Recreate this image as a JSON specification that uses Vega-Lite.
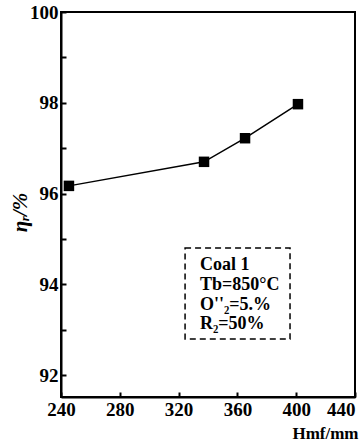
{
  "$schema": "https://vega.github.io/schema/vega-lite/v6.json",
  "width": 294,
  "height": 385,
  "autosize": {"type": "none"},
  "padding": {"left": 61, "top": 12, "right": 5, "bottom": 51},
  "background": "white",
  "config": {
    "view": {"stroke": "black", "strokeWidth": 2},
    "font": "Liberation Serif",
    "axis": {
      "domainColor": "black", "domainWidth": 2,
      "tickColor": "black", "tickWidth": 2, "tickSize": -5,
      "grid": false,
      "labelFont": "Liberation Serif", "labelFontWeight": "bold", "labelFontSize": 19, "labelColor": "black",
      "titleFont": "Liberation Serif", "titleFontWeight": "bold", "titleColor": "black"
    }
  },
  "datasets": {
    "pts": [
      {"H": 245.4, "eta": 96.17},
      {"H": 337.3, "eta": 96.70},
      {"H": 365.2, "eta": 97.22},
      {"H": 401.2, "eta": 97.97}
    ],
    "box": [{"x1": 324.4, "x2": 395.8, "y1": 94.8, "y2": 92.8}],
    "notes": [
      {"x": 334.5, "y": 94.43, "t": "Coal 1"},
      {"x": 334.5, "y": 93.99, "t": "Tb=850°C"},
      {"x": 334.5, "y": 93.55, "t": "O''₂=5.%"},
      {"x": 334.5, "y": 93.13, "t": "R₂=50%"}
    ]
  },
  "layer": [
    {
      "data": {"name": "pts"},
      "mark": {"type": "line", "color": "black", "strokeWidth": 1.5},
      "encoding": {
        "x": {
          "field": "H", "type": "quantitative",
          "scale": {"domain": [240, 440], "nice": false, "zero": false},
          "axis": {
            "values": [240, 260, 280, 300, 320, 340, 360, 380, 400, 420, 440],
            "labelExpr": "datum.value % 40 == 0 ? datum.label : ''",
            "labelAlign": {"condition": {"test": "datum.value == 440", "value": "right"}, "value": "center"},
            "labelOverlap": false,
            "labelPadding": 8,
            "labelFlush": false,
            "title": "Hmf/mm",
            "titleFontSize": 17,
            "titleAnchor": "end",
            "titleAlign": "right",
            "titleX": 297,
            "titleY": 41,
            "titleBaseline": "alphabetic"
          }
        },
        "y": {
          "field": "eta", "type": "quantitative",
          "scale": {"domain": [91.52, 100], "nice": false, "zero": false},
          "axis": {
            "values": [92, 93, 94, 95, 96, 97, 98, 99, 100],
            "labelExpr": "datum.value % 2 == 0 ? datum.label : ''",
            "labelOverlap": false,
            "labelPadding": 8,
            "labelFlush": false,
            "title": "ηᵣ/%",
            "titleFontSize": 21,
            "titleFontStyle": "italic",
            "titleX": -41,
            "titleY": 200,
            "titleAngle": -90,
            "titleAlign": "center",
            "titleBaseline": "middle"
          }
        }
      }
    },
    {
      "data": {"name": "pts"},
      "mark": {"type": "square", "color": "black", "filled": true, "opacity": 1, "size": 110},
      "encoding": {
        "x": {"field": "H", "type": "quantitative"},
        "y": {"field": "eta", "type": "quantitative"}
      }
    },
    {
      "data": {"name": "box"},
      "mark": {"type": "rect", "fill": null, "fillOpacity": 0, "stroke": "black", "strokeWidth": 1.5, "strokeDash": [6, 4]},
      "encoding": {
        "x": {"field": "x1", "type": "quantitative"},
        "x2": {"field": "x2"},
        "y": {"field": "y1", "type": "quantitative"},
        "y2": {"field": "y2"}
      }
    },
    {
      "data": {"name": "notes"},
      "mark": {"type": "text", "align": "left", "baseline": "middle", "font": "Liberation Serif", "fontWeight": "bold", "fontSize": 18, "color": "black"},
      "encoding": {
        "x": {"field": "x", "type": "quantitative"},
        "y": {"field": "y", "type": "quantitative"},
        "text": {"field": "t"}
      }
    }
  ]
}
